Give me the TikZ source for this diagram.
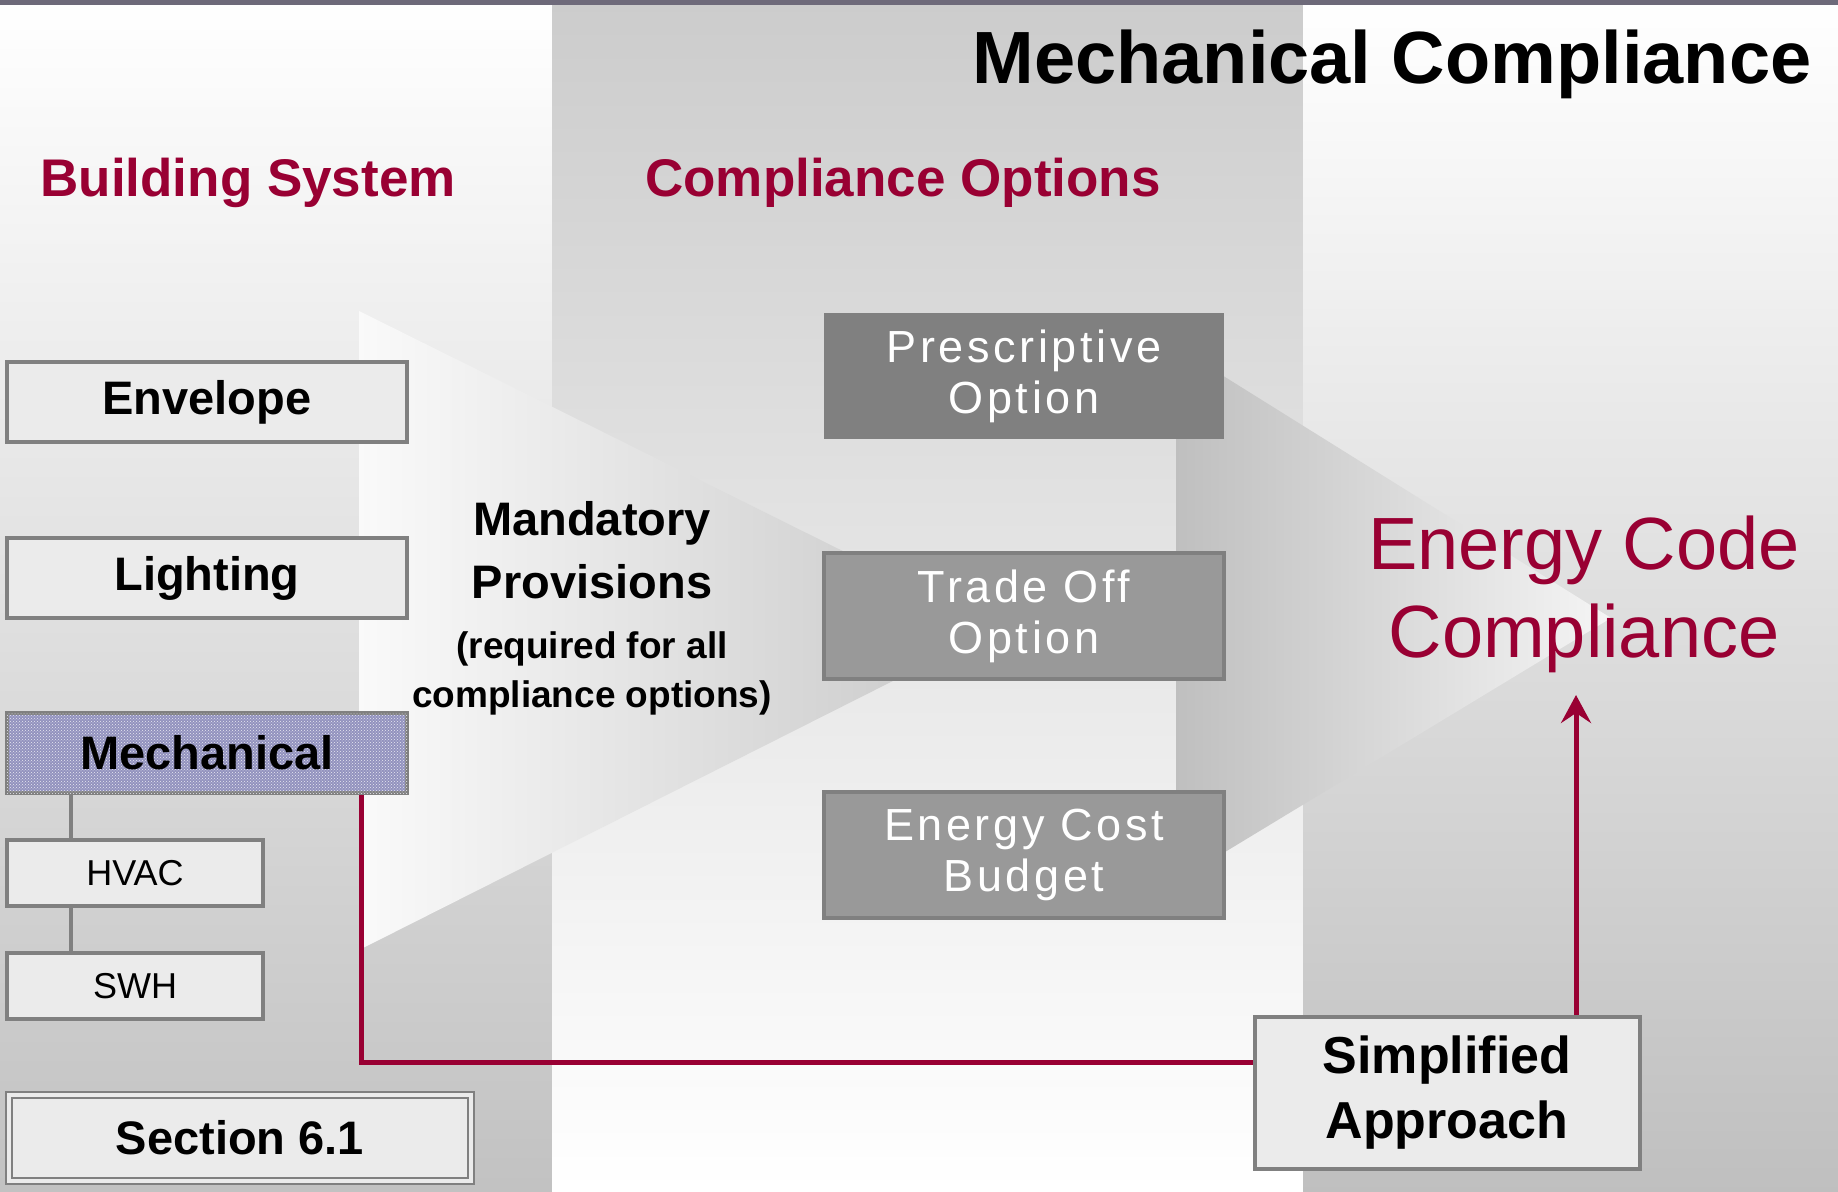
\documentclass[tikz,border=0pt]{standalone}
\usepackage{fontspec}
\setmainfont{Liberation Sans}
\newfontfamily\optfont[LetterSpace=8]{Liberation Sans}
\usepackage{tikz}
\usetikzlibrary{arrows.meta, patterns, calc}

\definecolor{crimson}{RGB}{153,0,51}
\definecolor{boxfill}{RGB}{235,235,235}
\definecolor{boxgray}{RGB}{128,128,128}
\definecolor{optdark}{RGB}{128,128,128}
\definecolor{optlight}{RGB}{153,153,153}
\definecolor{mechblue}{RGB}{146,146,190}
\definecolor{topbar}{RGB}{110,106,122}

\tikzset{
  sysbox/.style={draw=boxgray, line width=4, fill=boxfill, minimum width=400, minimum height=80,
    font=\fontsize{47}{56}\selectfont\bfseries},
  subbox/.style={draw=boxgray, line width=4, fill=boxfill, minimum width=256, minimum height=66,
    font=\fontsize{36}{43}\selectfont},
  optbox/.style={line width=4, minimum width=400, minimum height=126, text=white, align=center,
    font=\optfont\fontsize{45}{51}\selectfont},
  heading/.style={text=crimson, font=\fontsize{53}{63}\selectfont\bfseries},
  link/.style={draw=boxgray, line width=4},
  redline/.style={draw=crimson, line width=5}
}

\begin{document}
\begin{tikzpicture}[x=1pt, y=-1pt]
  \useasboundingbox (0,0) rectangle (1838,1191);
  % background columns
  \shade[top color=white, bottom color=black!24] (0,0) rectangle (552,1191);
  \shade[top color=black!20, bottom color=white] (552,0) rectangle (1303,1191);
  \shade[top color=white, bottom color=black!25] (1303,0) rectangle (1838,1191);
  \fill[topbar] (0,0) rectangle (1838,5);
  % funnels
  \shade[left color=white!98!black, right color=black!22] (359,311) -- (998,628) -- (359,950) -- cycle;
  \shade[left color=black!25, right color=white!96!black] (1176,346) -- (1225,377) -- (1611,618)
    -- (1225,852) -- (1176,881) -- cycle;

  % headings
  \node[font=\fontsize{74}{88}\selectfont\bfseries] (title) at (1392,64) {Mechanical Compliance};
  \node[heading] (bsys) at (248,183) {Building System};
  \node[heading] (copt) at (903,183) {Compliance Options};

  % building systems
  \node[sysbox] (env) at (207,402) {Envelope};
  \node[sysbox] (light) at (207,578) {Lighting};
  \node[sysbox, fill=mechblue, postaction={pattern=crosshatch dots, pattern color=white!80!mechblue}] (mech) at (207,753) {Mechanical};
  \node[subbox] (hvac) at (135,873) {HVAC};
  \node[subbox] (swh) at (135,986) {SWH};
  \node[sysbox, minimum width=462, minimum height=86, line width=2, double=boxfill, double distance=4] (sec) at (240,1138) {Section 6.1};
  \draw[link] ([xshift=66]hvac.north west) -- ([xshift=66]hvac.north west |- mech.south);
  \draw[link] ([xshift=66]swh.north west) -- ([xshift=66]hvac.south west);

  % mandatory provisions
  \node[font=\fontsize{47}{63}\selectfont\bfseries, align=center] (mand) at (592,550) {Mandatory\\Provisions};
  \node[font=\fontsize{37}{49}\selectfont\bfseries, align=center] (req) at (592,673) {(required for all\\compliance options)};

  % compliance options
  \node[optbox, fill=optdark] (pres) at (1024,376) {Prescriptive\\Option};
  \node[optbox, fill=optlight, draw=optdark] (trade) at (1024,616) {Trade Off\\Option};
  \node[optbox, fill=optlight, draw=optdark] (ecb) at (1024,855) {Energy Cost\\Budget};

  % result
  \node[text=crimson, font=\fontsize{74}{88}\selectfont, align=center] (ecc) at (1584,594) {Energy Code\\Compliance};
  \node[draw=boxgray, line width=4, fill=boxfill, minimum width=385, minimum height=152, align=center,
    font=\fontsize{52}{65}\selectfont\bfseries] (simp) at (1447,1093) {Simplified\\Approach};
  \coordinate (ecctip) at (1576,695);

  \draw[redline] ([xshift=-48]mech.south east) |- ([yshift=31]simp.west);
  \draw[redline, -{Stealth[length=28, width=30, inset=10]}] ([xshift=129]simp.north) -- (ecctip);
\end{tikzpicture}
\end{document}
